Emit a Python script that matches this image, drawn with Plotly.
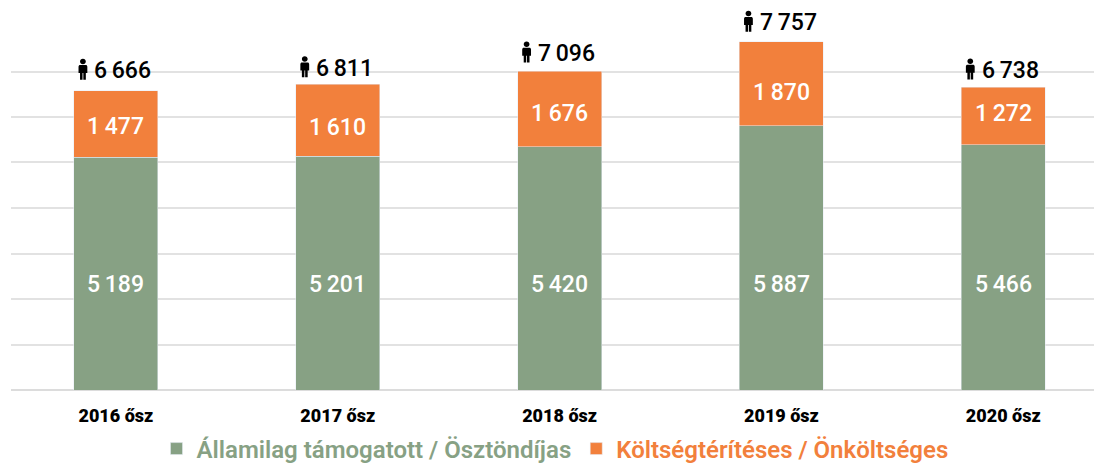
import plotly.graph_objects as go

categories = ["2016 ősz", "2017 ősz", "2018 ősz", "2019 ősz", "2020 ősz"]
state_funded = [5189, 5201, 5420, 5887, 5466]
self_funded = [1477, 1610, 1676, 1870, 1272]
totals = [6666, 6811, 7096, 7757, 6738]
grid_values = [1013, 2027, 3040, 4053, 5067, 6080, 7093]

GREEN = "#87A184"
ORANGE = "#F2803C"
FONT = "Roboto"
W, H = 1094, 472
PAGE_OFFSET = 8
BASELINE = 390 - PAGE_OFFSET
TOP_LIFT = [20, 16, 18, 19, 17]
ORANGE_SHIFT = [-3, -7, -4, -9, 3]
GREEN_LABEL_PX = 284 - PAGE_OFFSET


def spaced(v):
    return f"{v:,}".replace(",", "\u2009")


def person(dx, lift):
    def p(x, y):
        return f"{x + dx:.1f} {y + lift - 22:.1f}"
    return (f"M {p(0, 34)} C {p(1.7, 34)} {p(2.9, 32.8)} {p(2.9, 31.2)} C {p(2.9, 29.6)} {p(1.7, 28.4)} {p(0, 28.4)} "
            f"C {p(-1.7, 28.4)} {p(-2.9, 29.6)} {p(-2.9, 31.2)} C {p(-2.9, 32.8)} {p(-1.7, 34)} {p(0, 34)} Z "
            f"M {p(-2.8, 27.6)} L {p(2.8, 27.6)} C {p(3.8, 27.6)} {p(4.3, 27)} {p(4.4, 26)} L {p(4.4, 19.6)} L {p(2.9, 19.6)} "
            f"L {p(2.9, 13)} L {p(0.4, 13)} L {p(0.4, 19.6)} L {p(-0.4, 19.6)} L {p(-0.4, 13)} L {p(-2.9, 13)} L {p(-2.9, 19.6)} "
            f"L {p(-4.4, 19.6)} L {p(-4.4, 26)} C {p(-4.3, 27)} {p(-3.8, 27.6)} {p(-2.8, 27.6)} Z")


fig = go.Figure()
fig.add_bar(
    name=f'<span style="color:{GREEN}">Államilag támogatott / Ösztöndíjas</span>',
    x=categories, y=state_funded, marker_color=GREEN, width=0.379,
)
fig.add_bar(
    name=f'<span style="color:{ORANGE}">Költségtérítéses / Önköltséges</span>',
    x=categories, y=self_funded, marker_color=ORANGE, width=0.379,
)

for i, cat in enumerate(categories):
    fig.add_annotation(
        x=cat, y=1 - GREEN_LABEL_PX / H, yref="paper", yanchor="middle", xanchor="center",
        text=spaced(state_funded[i]), showarrow=False,
        font=dict(family=FONT, size=23, color="white", weight=500),
    )
    fig.add_annotation(
        x=cat, y=state_funded[i] + self_funded[i] / 2, yanchor="middle", xanchor="center",
        yshift=ORANGE_SHIFT[i], text=spaced(self_funded[i]), showarrow=False,
        font=dict(family=FONT, size=23, color="white", weight=500),
    )
    fig.add_annotation(
        x=cat, y=totals[i], yanchor="middle", xanchor="center", xshift=7, yshift=TOP_LIFT[i],
        text=spaced(totals[i]), showarrow=False,
        font=dict(family=FONT, size=23, color="black", weight=500),
    )
    fig.add_shape(
        type="path", xref="x", yref="y", xsizemode="pixel", ysizemode="pixel",
        xanchor=i, yanchor=totals[i], path=person(-33, TOP_LIFT[i]),
        fillcolor="black", line_width=0,
    )

fig.update_layout(
    barmode="stack",
    width=W, height=H,
    margin=dict(l=0, r=0, t=0, b=0),
    paper_bgcolor="white", plot_bgcolor="white",
    xaxis=dict(
        type="category", domain=[3 / W, 1], range=[-0.473, 4.445],
        showgrid=False, showline=False, ticks="", ticklabelstandoff=13,
        tickfont=dict(family=FONT, size=18, color="black", weight=900),
    ),
    yaxis=dict(
        domain=[(H - BASELINE) / H, 1], range=[0, BASELINE / 0.0449], tickvals=grid_values,
        showticklabels=False,
        gridcolor="#E2E2E2", gridwidth=2, zeroline=True, zerolinecolor="#DCDCDC",
        zerolinewidth=2, showline=False, ticks="",
    ),
    legend=dict(
        orientation="h", x=0.5, xanchor="center", y=31 / H, yanchor="middle",
        font=dict(family=FONT, size=24, weight=600),
        itemclick=False, itemdoubleclick=False, traceorder="normal",
    ),
    font=dict(family=FONT),
)

fig.write_html("out.html")
